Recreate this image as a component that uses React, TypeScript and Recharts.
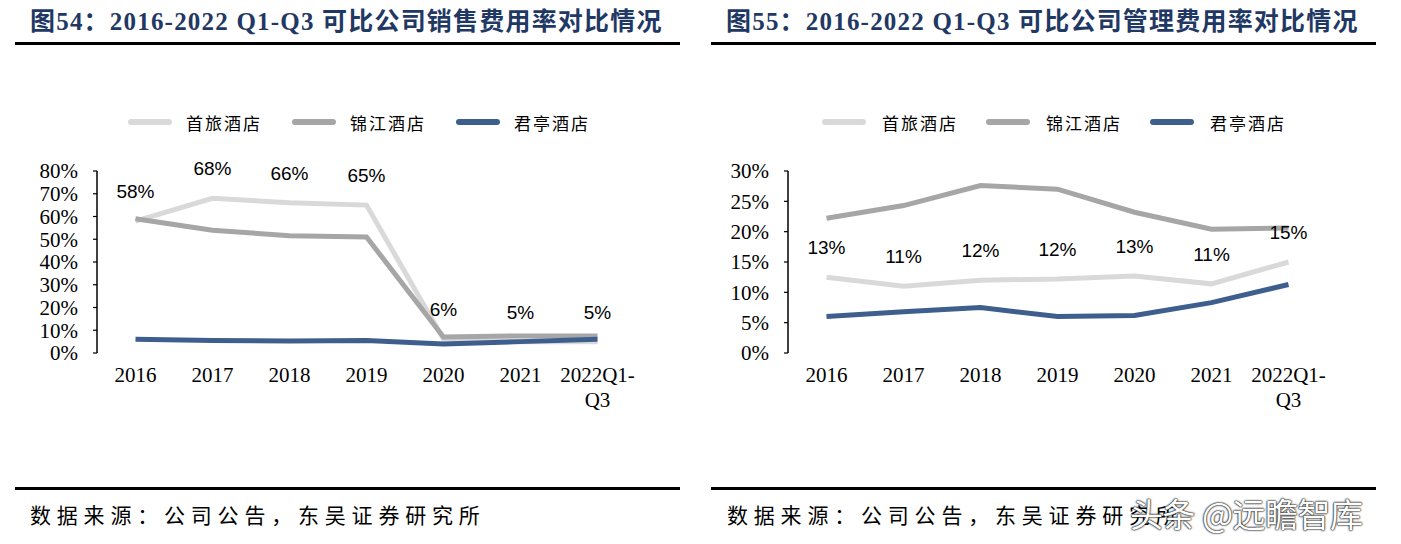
import { LineChart, Line, XAxis, YAxis, LabelList } from "recharts";

// categories and series
const years = ["2016", "2017", "2018", "2019", "2020", "2021", "2022Q1-\nQ3"];
const seriesNames = ["首旅酒店", "锦江酒店", "君亭酒店"];
const seriesColors = ["#d9d9d9", "#a6a6a6", "#3e5f8e"];

// 销售费用率 (%)
const salesShouLv = [58, 68, 66, 65, 6, 5, 5];
const salesJinJiang = [59, 54, 51.5, 51, 7, 7.5, 7.5];
const salesJunTing = [6, 5.5, 5.3, 5.5, 4, 5, 6];
const salesLabels = ["58%", "68%", "66%", "65%", "6%", "5%", "5%"];
const salesTicks = [0, 10, 20, 30, 40, 50, 60, 70, 80];

// 管理费用率 (%)
const adminShouLv = [12.5, 11, 12, 12.2, 12.7, 11.4, 15];
const adminJinJiang = [22.2, 24.3, 27.6, 27, 23.2, 20.4, 20.6];
const adminJunTing = [6, 6.8, 7.5, 6, 6.2, 8.3, 11.3];
const adminLabels = ["13%", "11%", "12%", "12%", "13%", "11%", "15%"];
const adminTicks = [0, 5, 10, 15, 20, 25, 30];

const boundaryTicks = [0, 1, 2, 3, 4, 5, 6, 7];
const centerTicks = years.map((_, i) => i + 0.5);

const SERIF = "'Liberation Serif', 'Times New Roman', serif";
const SANS = "'Liberation Sans', Arial, sans-serif";
const CJK = "'Noto Sans CJK SC', sans-serif";

function buildRows(a: number[], b: number[], c: number[], labels: string[]) {
  return years.map((_, i) => ({ x: i + 0.5, s0: a[i], s1: b[i], s2: c[i], lbl: labels[i] }));
}

function YearTick(props: any) {
  const { x, y, payload } = props;
  const idx = Math.floor(payload.value);
  const lines = (years[idx] || "").split("\n");
  return (
    <text x={x} y={y} textAnchor="middle" fontFamily={SERIF} fontSize={21} fill="#000">
      {lines.map((t, k) => (
        <tspan key={k} x={x} dy={k === 0 ? "0.75em" : 25}>
          {t}
        </tspan>
      ))}
    </text>
  );
}

interface PanelProps {
  left: number;
  title: string;
  rows: any[];
  yMax: number;
  yTicks: number[];
  yAxisWidth: number;
  rightMargin: number;
  legendLeft: number;
  legendGap: number;
  footerLeft: number;
}

function Panel({ left, title, rows, yMax, yTicks, yAxisWidth, rightMargin, legendLeft, legendGap, footerLeft }: PanelProps) {
  return (
    <div style={{ position: "absolute", left, top: 0, width: 700, height: 544 }}>
      <div
        style={{
          position: "absolute",
          left: 30,
          top: 1,
          whiteSpace: "nowrap",
          fontFamily: `${SERIF}, ${CJK}`,
          fontWeight: 700,
          fontSize: 25,
          letterSpacing: 1.2,
          color: "#1f3864",
        }}
      >
        {title}
      </div>
      <div style={{ position: "absolute", left: 15, top: 42, width: 665, height: 3, background: "#000" }} />

      {/* legend */}
      {seriesNames.map((name, i) => (
        <div
          key={name}
          style={{
            position: "absolute",
            left: legendLeft + i * 164,
            top: 110,
            height: 24,
            display: "flex",
            alignItems: "center",
            whiteSpace: "nowrap",
          }}
        >
          <div style={{ width: 44, height: 6, borderRadius: 3, background: seriesColors[i] }} />
          <span style={{ marginLeft: legendGap, fontFamily: CJK, fontSize: 17, letterSpacing: 2, color: "#000" }}>
            {name}
          </span>
        </div>
      ))}

      <div style={{ position: "absolute", left: 0, top: 0 }}>
        <LineChart width={700} height={440} data={rows} margin={{ top: 171, right: rightMargin, left: 0, bottom: 27 }}>
          <XAxis
            dataKey="x"
            type="number"
            domain={[0, 7]}
            ticks={boundaryTicks}
            height={0}
            mirror
            tick={false}
            tickSize={5}
            axisLine={{ stroke: "#000", strokeWidth: 1.5 }}
            tickLine={{ stroke: "#000", strokeWidth: 1.2 }}
          />
          <XAxis
            xAxisId="lbl"
            dataKey="x"
            type="number"
            domain={[0, 7]}
            ticks={centerTicks}
            height={60}
            axisLine={false}
            tickLine={false}
            tickSize={0}
            tickMargin={13}
            tick={<YearTick />}
            interval={0}
          />
          <YAxis
            type="number"
            domain={[0, yMax]}
            ticks={yTicks}
            width={yAxisWidth}
            interval={0}
            tickFormatter={(v: number) => `${v}%`}
            tick={{ fontFamily: SERIF, fontSize: 21, fill: "#000" }}
            tickSize={4}
            tickMargin={15}
            axisLine={{ stroke: "#000", strokeWidth: 1.5 }}
            tickLine={{ stroke: "#000", strokeWidth: 1.2 }}
          />
          <Line dataKey="s0" stroke={seriesColors[0]} strokeWidth={5} dot={false} isAnimationActive={false}>
            <LabelList dataKey="lbl" position="top" offset={23} fill="#000" fontFamily={SANS} fontSize={19} />
          </Line>
          <Line dataKey="s1" stroke={seriesColors[1]} strokeWidth={5} dot={false} isAnimationActive={false} />
          <Line dataKey="s2" stroke={seriesColors[2]} strokeWidth={5} dot={false} isAnimationActive={false} />
        </LineChart>
      </div>

      <div style={{ position: "absolute", left: 15, top: 487, width: 665, height: 3, background: "#000" }} />
      <div
        style={{
          position: "absolute",
          left: footerLeft,
          top: 499,
          whiteSpace: "nowrap",
          fontFamily: CJK,
          fontSize: 21,
          letterSpacing: 5.8,
          color: "#000",
        }}
      >
        数据来源：公司公告，东吴证券研究所
      </div>
    </div>
  );
}

export default function App() {
  const salesRows = buildRows(salesShouLv, salesJinJiang, salesJunTing, salesLabels);
  const adminRows = buildRows(adminShouLv, adminJinJiang, adminJunTing, adminLabels);
  return (
    <div style={{ position: "fixed", left: 0, top: 0, width: 1401, height: 544, background: "#fff", overflow: "hidden" }}>
      <Panel
        left={0}
        title="图54：2016-2022 Q1-Q3 可比公司销售费用率对比情况"
        rows={salesRows}
        yMax={80}
        yTicks={salesTicks}
        yAxisWidth={97}
        rightMargin={64}
        legendLeft={128}
        legendGap={14}
        footerLeft={30}
      />
      <Panel
        left={696}
        title="图55：2016-2022 Q1-Q3 可比公司管理费用率对比情况"
        rows={adminRows}
        yMax={30}
        yTicks={adminTicks}
        yAxisWidth={92}
        rightMargin={69}
        legendLeft={126}
        legendGap={16}
        footerLeft={31}
      />
      <div
        style={{
          position: "absolute",
          left: 1130,
          top: 489,
          whiteSpace: "nowrap",
          fontFamily: CJK,
          fontSize: 33,
          letterSpacing: -0.5,
          color: "#fff",
          textShadow: "0 0 2px #222, 0 0 2px #222, 0 0 1px #222",
        }}
      >
        头条 @远瞻智库
      </div>
    </div>
  );
}
